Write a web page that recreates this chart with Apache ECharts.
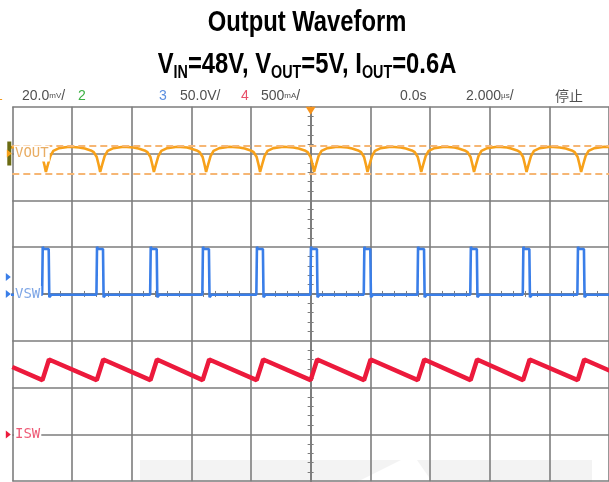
<!DOCTYPE html>
<html><head><meta charset="utf-8">
<script src="https://cdn.jsdelivr.net/npm/echarts@6.0.0/dist/echarts.min.js"></script>
<style>html,body{margin:0;padding:0;background:#fff}#chart{width:609px;height:482px}</style>
</head><body><div id="chart"></div>
<script>
// ----- texts -----
const titleMain = 'Output Waveform';
const titleSub = 'V{s|IN}=48V, V{s|OUT}=5V, I{s|OUT}=0.6A';
const headerTexts = ['1', '20.0{u|mV}/', '2', '3', '50.0V/', '4', '500{u|mA}/', '0.0s', '2.000{u|µs}/', '停止'];
const headerColors = ['#f59a1e', '#505050', '#3cb043', '#5b8fe0', '#505050', '#e8506a', '#505050', '#505050', '#505050', '#505050'];
const channelNames = ['VOUT', 'VSW', 'ISW'];

// ----- axes (oscilloscope divisions) -----
const timeMin = -10, timeMax = 10, timeStep = 2;   // µs, 2.000 µs/div
const divMin = -4, divMax = 4, divStep = 1;

// ----- channel settings -----
const voutScale = 20, voutRef = 3;     // mV/div, ground position (div)
const vswScale = 50, vswRef = 0;       // V/div
const iswScale = 0.5, iswRef = -3;     // A/div

// ----- switching edges (µs) -----
const pulseRise = [-10.78, -8.99, -7.17, -5.37, -3.62, -1.81, 0, 1.79, 3.59, 5.36, 7.12, 8.95, 10.74];
const pulseWidth = 0.22;

// ----- VSW levels (V) -----
const vswLow = -0.8, vswHigh = 48, vswOvershoot = 50.5, vswUndershoot = -3.5;

// ----- VOUT ripple around each edge: time offset (µs) / ripple (mV) -----
const voutOffsetT = [-0.40, -0.20, -0.10, 0, 0.066, 0.116, 0.18, 0.265, 0.365, 0.56, 0.90, 1.23];
const voutRippleMv = [2.1, 1.3, 0.6, -1.5, -4.9, -7.9, -4.9, -1.1, 1.1, 2.3, 2.9, 2.6];
const voutCursorsMv = [3.3, -8.9];

// ----- ISW (A) -----
const iswStart = 0.72, iswValley = 0.58, iswPeak = 0.80;

// ----- build traces in division units -----
const toDiv = (v, scale, ref) => ref + v / scale;
const voutData = [];
const vswData = [];
const iswData = [[timeMin, toDiv(iswStart, iswScale, iswRef)]];
pulseRise.forEach(r => {
  voutOffsetT.forEach((dt, i) => voutData.push([r + dt, toDiv(voutRippleMv[i], voutScale, voutRef)]));
  vswData.push([r - 0.01, toDiv(vswLow, vswScale, vswRef)]);
  vswData.push([r + 0.01, toDiv(vswOvershoot, vswScale, vswRef)]);
  vswData.push([r + 0.04, toDiv(vswHigh, vswScale, vswRef)]);
  vswData.push([r + pulseWidth - 0.01, toDiv(vswHigh, vswScale, vswRef)]);
  vswData.push([r + pulseWidth + 0.01, toDiv(vswUndershoot, vswScale, vswRef)]);
  vswData.push([r + pulseWidth + 0.08, toDiv(vswLow, vswScale, vswRef)]);
  if (r > timeMin) {
    iswData.push([r, toDiv(iswValley, iswScale, iswRef)]);
    iswData.push([r + pulseWidth, toDiv(iswPeak, iswScale, iswRef)]);
  }
});

const gridColor = '#7d7d7d';
const chart = echarts.init(document.getElementById('chart'));

function timeAxis(pos) {
  return {
    type: 'value', min: timeMin, max: timeMax, interval: timeStep, position: pos,
    axisLine: { show: true, onZero: true, lineStyle: { color: gridColor, width: 1.6 } },
    axisTick: { show: false },
    minorTick: { show: true, splitNumber: 5, length: 3, lineStyle: { color: gridColor, width: 1 } },
    axisLabel: { show: false },
    splitLine: { show: pos === 'bottom', lineStyle: { color: gridColor, width: 1.6 } }
  };
}
function divAxis(pos) {
  return {
    type: 'value', min: divMin, max: divMax, interval: divStep, position: pos,
    axisLine: { show: true, onZero: true, lineStyle: { color: gridColor, width: 1.6 } },
    axisTick: { show: false },
    minorTick: { show: true, splitNumber: 5, length: 3, lineStyle: { color: gridColor, width: 1 } },
    axisLabel: { show: false },
    splitLine: { show: pos === 'left', lineStyle: { color: gridColor, width: 1.6 } }
  };
}

chart.setOption({
  animation: false,
  backgroundColor: '#fff',
  grid: { left: 12.3, right: -4.3, top: 106.7, bottom: 0.8, containLabel: false },
  xAxis: [timeAxis('bottom'), timeAxis('top')],
  yAxis: [divAxis('left'), divAxis('right')],
  series: [
    {
      name: channelNames[0], type: 'line', data: voutData, showSymbol: false, z: 3,
      lineStyle: { color: '#f7a11a', width: 2.6 },
      markLine: {
        silent: true, symbol: 'none', label: { show: false },
        lineStyle: { color: '#f6b674', width: 2, type: [7, 4] },
        data: voutCursorsMv.map(v => ({ yAxis: toDiv(v, voutScale, voutRef) }))
      },
      markPoint: {
        silent: true, label: { show: false },
        data: [
          { coord: [0, divMax], symbol: 'triangle', symbolRotate: 180, symbolSize: [10, 8], symbolOffset: [0, 4], itemStyle: { color: '#f7941d' } },
          { coord: [timeMin, voutRef], symbol: 'rect', symbolSize: [4, 24], symbolOffset: [-3, 0], itemStyle: { color: '#6b6b12' } },
          { coord: [timeMin, voutRef], symbol: 'triangle', symbolRotate: -90, symbolSize: [8, 5], symbolOffset: [-3, 0], itemStyle: { color: '#f7a11a' } }
        ]
      }
    },
    {
      name: channelNames[1], type: 'line', data: vswData, showSymbol: false, z: 4,
      lineStyle: { color: '#3a7ee8', width: 2.6 },
      markPoint: {
        silent: true, label: { show: false },
        data: [
          { coord: [timeMin, vswRef], symbol: 'triangle', symbolRotate: -90, symbolSize: [8, 5], symbolOffset: [-4, 0], itemStyle: { color: '#3a7ee8' } },
          { coord: [timeMin, 0.36], symbol: 'triangle', symbolRotate: -90, symbolSize: [8, 5], symbolOffset: [-4, 0], itemStyle: { color: '#3a7ee8' } }
        ]
      }
    },
    {
      name: channelNames[2], type: 'line', data: iswData, showSymbol: false, z: 5,
      lineStyle: { color: '#ec1a3c', width: 4.5 },
      markPoint: {
        silent: true, label: { show: false },
        data: [
          { coord: [timeMin, iswRef], symbol: 'triangle', symbolRotate: -90, symbolSize: [8, 5], symbolOffset: [-4, 0], itemStyle: { color: '#ec1a3c' } }
        ]
      }
    }
  ]
});

// ----- decorations and labels -----
const headerX = [-5, 22, 78, 159, 180, 241, 261, 400, 466, 555];
const refPix = [voutRef, vswRef, iswRef].map(r => chart.convertToPixel({ gridIndex: 0 }, [timeMin, r]));
const labelColors = ['#e9ad63', '#7ea6e6', '#ee5a76'];
const titleFont = '"Liberation Sans", Arial, sans-serif';
const narrow = 0.82;

const graphics = [
  { type: 'rect', z: -10, shape: { x: 140, y: 460, width: 452, height: 24 }, style: { fill: '#f3f3f3' } },
  { type: 'polygon', z: -9, shape: { points: [[355, 483], [401, 460], [417, 460], [433, 483]] }, style: { fill: '#ffffff' } },
  { type: 'text', z: 50, x: 307, y: 23, scaleX: narrow, style: { text: titleMain, font: 'bold 29px ' + titleFont, fill: '#000', align: 'center', verticalAlign: 'middle' } },
  { type: 'text', z: 50, x: 307, y: 65, scaleX: narrow, style: {
      text: titleSub, fontSize: 29, fontWeight: 'bold', fontFamily: titleFont, lineHeight: 34, fill: '#000',
      align: 'center', verticalAlign: 'middle',
      rich: { s: { fontSize: 17.5, fontWeight: 'bold', fontFamily: titleFont, lineHeight: 24, verticalAlign: 'bottom', fill: '#000' } }
  } }
];
headerTexts.forEach((t, i) => {
  graphics.push({ type: 'text', z: 50, x: headerX[i], y: 96, style: {
    text: t, fontSize: 14, fontFamily: i === 9 ? '"Noto Sans CJK SC", sans-serif' : '"Liberation Sans", sans-serif',
    fill: headerColors[i], verticalAlign: 'middle', align: 'left',
    rich: { u: { fontSize: 8, fontFamily: '"Liberation Sans", sans-serif', fill: headerColors[i], verticalAlign: 'middle' } }
  } });
});
channelNames.forEach((n, i) => {
  graphics.push({ type: 'text', z: 60, x: 14, y: refPix[i][1], style: {
    text: n, fontSize: 14, fontFamily: '"DejaVu Sans Mono", monospace', fill: labelColors[i],
    verticalAlign: 'middle', align: 'left', backgroundColor: '#fff', padding: [1, 1, 1, 1]
  } });
});
chart.setOption({ graphic: { elements: graphics } });
</script>
</body></html>
